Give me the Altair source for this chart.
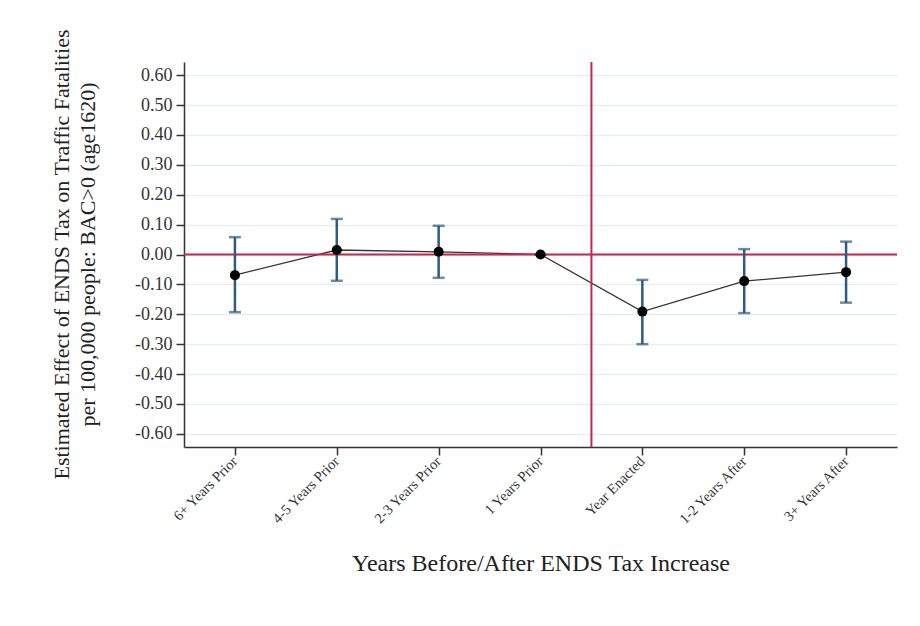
import json
import altair as alt
import pandas as pd

# Event-study estimates with 95% confidence bounds
periods = ["6+ Years Prior", "4-5 Years Prior", "2-3 Years Prior", "1 Years Prior",
           "Year Enacted", "1-2 Years After", "3+ Years After"]
estimate = [-0.069, 0.015, 0.009, 0.000, -0.191, -0.089, -0.059]
ci_low = [-0.193, -0.088, -0.078, 0.000, -0.300, -0.196, -0.161]
ci_high = [0.058, 0.119, 0.096, 0.000, -0.085, 0.018, 0.043]
y_ticks = [-0.6, -0.5, -0.4, -0.3, -0.2, -0.1, 0.0, 0.1, 0.2, 0.3, 0.4, 0.5, 0.6]
enactment_break = 3.5

df = pd.DataFrame({
    "idx": list(range(len(periods))),
    "period": periods,
    "est": estimate,
    "lo": ci_low,
    "hi": ci_high,
})

SERIF = "Liberation Serif"
label_expr = json.dumps(periods) + "[datum.value]"

x_scale = alt.Scale(domain=[-0.5, 6.5], nice=False, zero=False)
y_scale = alt.Scale(domain=[-0.644, 0.644], nice=False, zero=False)

x_axis = alt.Axis(
    values=list(range(len(periods))), labelExpr=label_expr,
    labelAngle=-45, labelAlign="right", labelBaseline="middle",
    labelFont=SERIF, labelFontSize=14.5, labelColor="#333333", labelPadding=4,
    labelOverlap=False,
    tickSize=8, tickColor="#333333", tickWidth=1.5,
    domainColor="#333333", domainWidth=1.5, grid=False,
    title="Years Before/After ENDS Tax Increase", titleFont=SERIF,
    titleFontSize=24, titleFontWeight="normal", titleColor="#222222",
    titleY=116, titleBaseline="middle",
)
y_axis = alt.Axis(
    values=y_ticks,
    labelExpr="replace(format(datum.value, '.2f'), '\u2212', '-')",
    labelOverlap=False,
    labelFont=SERIF, labelFontSize=18, labelColor="#333333", labelPadding=4,
    tickSize=8, tickColor="#333333", tickWidth=1.5,
    domainColor="#333333", domainWidth=1.5,
    grid=True, gridColor="#e5eef3", gridWidth=1.5,
    title=["Estimated Effect of ENDS Tax on Traffic Fatalities",
           "per 100,000 people: BAC>0 (age1620)"],
    titleFont=SERIF, titleFontSize=22, titleFontWeight="normal",
    titleColor="#222222", titleLineHeight=26,
    titleAngle=-90, titleX=-133, titleY=192, titleAlign="center",
    titleBaseline="top",
)


def xq(field):
    return alt.X(field, type="quantitative", scale=x_scale, axis=x_axis)


def yq(field):
    return alt.Y(field, type="quantitative", scale=y_scale, axis=y_axis)


base = alt.Chart(df)

zero_line = alt.Chart(pd.DataFrame({"y": [0.0]})).mark_rule(
    color="#c8264e", strokeWidth=2
).encode(y=yq("y"))

break_line = alt.Chart(pd.DataFrame({"x": [enactment_break]})).mark_rule(
    color="#c8264e", strokeWidth=2
).encode(x=xq("x"))

err_color = "#2f5a85"
whiskers = base.mark_rule(color=err_color, strokeWidth=2.5).encode(
    x=xq("idx"), y=yq("lo"), y2="hi:Q"
)
cap_lo = base.mark_tick(color=err_color, size=12, thickness=2.5, orient="horizontal").encode(
    x=xq("idx"), y=yq("lo")
)
cap_hi = base.mark_tick(color=err_color, size=12, thickness=2.5, orient="horizontal").encode(
    x=xq("idx"), y=yq("hi")
)

line = base.mark_line(color="#333333", strokeWidth=1.3).encode(x=xq("idx"), y=yq("est"))
points = base.mark_circle(color="#000000", size=100, opacity=1).encode(
    x=xq("idx"), y=yq("est")
)

chart = alt.layer(
    line, zero_line, break_line, whiskers, cap_lo, cap_hi, points
).properties(
    width=713, height=385,
    autosize=alt.AutoSizeParams(type="none"),
    padding={"left": 184, "top": 62, "right": 23, "bottom": 179},
    background="white",
).configure_view(stroke=None)

chart.save("out.html", embed_options={"renderer": "svg", "actions": False})
